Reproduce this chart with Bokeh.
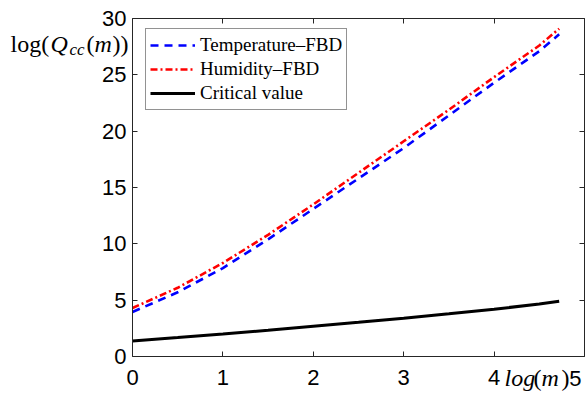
from bokeh.plotting import figure
from bokeh.models import Range1d, LinearAxis, Label, FixedTicker, Legend, LegendItem
from bokeh.embed import file_html
from bokeh.resources import INLINE

# ---- data ----
log_m = [0, 0.5, 1, 1.5, 2, 2.5, 3, 3.5, 4, 4.5, 4.72]
temperature_fbd = [3.95, 5.7, 7.85, 10.4, 13.1, 15.8, 18.5, 21.4, 24.3, 27.1, 28.6]
humidity_fbd = [4.3, 6.1, 8.3, 10.8, 13.5, 16.3, 19.1, 21.9, 24.8, 27.6, 29.1]
critical_value = [1.38, 1.68, 2.0, 2.33, 2.68, 3.03, 3.4, 3.79, 4.2, 4.65, 4.9]
x_ticks = [0, 1, 2, 3, 4, 5]
x_tick_labels = ["0", "1", "2", "3", "4", "5"]
y_ticks = [0, 5, 10, 15, 20, 25, 30]
series_names = ["Temperature\u2013FBD", "Humidity\u2013FBD", "Critical value"]

# ---- layout: the frame spans the whole canvas; the axes box sits inside it ----
W, H = 588, 393
BOX_L, BOX_R, BOX_T, BOX_B = 132, 584, 18, 356   # pixel edges of the axes box
X0, X1, Y0, Y1 = 0, 5, 0, 30
kx = (BOX_R - BOX_L) / (X1 - X0)
ky = (BOX_B - BOX_T) / (Y1 - Y0)
xr = Range1d(X0 - BOX_L / kx, X1 + (W - BOX_R) / kx)
yr = Range1d(Y0 - (H - BOX_B) / ky, Y1 + BOX_T / ky)

AX = "#262626"
p = figure(width=W, height=H, output_backend="svg", toolbar_location=None,
           x_range=xr, y_range=yr, min_border=0,
           background_fill_color="white", border_fill_color="white")
p.grid.visible = False
p.outline_line_color = None

tick_font = "Liberation Sans"
xa = p.xaxis[0]
xa.fixed_location = Y0
xa.bounds = (X0, X1)
xa.ticker = FixedTicker(ticks=x_ticks)
xa.major_label_overrides = {t: (lab if t != x_ticks[-1] else "") for t, lab in zip(x_ticks, x_tick_labels)}
xa.major_label_standoff = 13

ya = p.yaxis[0]
ya.fixed_location = X0
ya.bounds = (Y0, Y1)
ya.ticker = FixedTicker(ticks=y_ticks)
ya.major_label_standoff = 6

top_ax = LinearAxis(fixed_location=Y1, bounds=(X0, X1), ticker=FixedTicker(ticks=x_ticks),
                    major_label_overrides={t: "" for t in x_ticks}, major_label_standoff=0)
right_ax = LinearAxis(fixed_location=X1, bounds=(Y0, Y1), ticker=FixedTicker(ticks=y_ticks),
                      major_label_overrides={t: "" for t in y_ticks}, major_label_standoff=0)
p.add_layout(top_ax, "above")
p.add_layout(right_ax, "right")

for ax in [xa, ya, top_ax, right_ax]:
    ax.major_label_text_font = tick_font
    ax.major_label_text_font_size = "22px"
    ax.major_label_text_color = "black"
    ax.axis_line_color = AX
    ax.axis_line_width = 1
    ax.major_tick_line_color = AX
    ax.major_tick_in = 5
    ax.major_tick_out = 0
    ax.minor_tick_line_color = None

r1 = p.line(log_m, temperature_fbd, line_color="#0000ff", line_width=2.6, line_dash="8 6")
r2 = p.line(log_m, humidity_fbd, line_color="#ff0000", line_width=2.6, line_dash="7 3 2 3")
r3 = p.line(log_m, critical_value, line_color="black", line_width=3)

legend = Legend(items=[LegendItem(label=series_names[0], renderers=[r1]),
                       LegendItem(label=series_names[1], renderers=[r2]),
                       LegendItem(label=series_names[2], renderers=[r3])],
                location=(145, H - 110), glyph_width=45, glyph_height=24,
                label_height=24, label_standoff=5, spacing=0, padding=4, margin=0,
                label_text_font="Liberation Serif", label_text_font_size="19px",
                label_text_color="black", border_line_color=AX, border_line_width=1,
                background_fill_color="white", background_fill_alpha=1)
p.add_layout(legend)

serif = "Liberation Serif"
def lab(text, px, py, size="24px", style="normal", align="left", font=serif):
    p.add_layout(Label(x=px, y=py, x_units="canvas", y_units="canvas", text=text,
                       text_font=font, text_font_size=size, text_font_style=style,
                       text_color="black", text_align=align, text_baseline="alphabetic"))

# y-axis label: log(Q_cc(m))
lab("log(", 10, 43)
lab("Q", 50, 43, style="italic")
lab("cc", 69, 49, size="17px", style="italic")
lab("(", 86, 43)
lab("m", 94, 43, style="italic")
lab("))", 112, 43)

# x-axis label: log(m)
lab("log", 504, 377, style="italic")
lab("(", 533, 377)
lab("m", 541, 377, style="italic")
lab(")", 561, 377)

# last x tick label, kept inside the picture as in the reference
lab(x_tick_labels[-1], 581, 378, size="22px", align="right", font=tick_font)

open("out.html", "w").write(file_html(p, INLINE))
